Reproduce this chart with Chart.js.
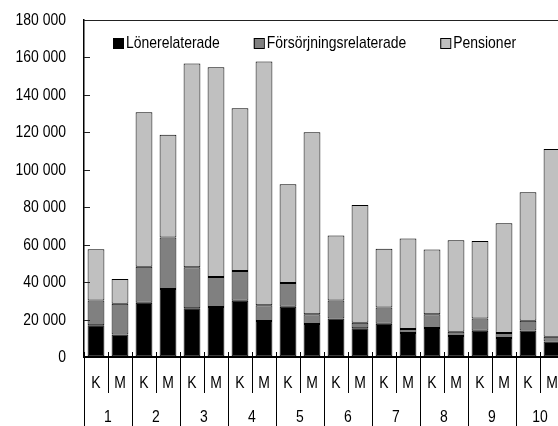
<!DOCTYPE html>
<html>
<head>
<meta charset="utf-8">
<script src="https://cdn.jsdelivr.net/npm/chart.js@4.4.1/dist/chart.umd.min.js"></script>
<style>
  html, body { margin: 0; padding: 0; overflow: hidden; background: #fff; }
  #wrap { position: absolute; left: 0; top: 0; width: 572px; height: 426px; }
</style>
</head>
<body>
<div id="wrap"><canvas id="chart"></canvas></div>
<script>
var bars = ['K', 'M', 'K', 'M', 'K', 'M', 'K', 'M', 'K', 'M', 'K', 'M', 'K', 'M', 'K', 'M', 'K', 'M', 'K', 'M'];
var groups = ['1', '2', '3', '4', '5', '6', '7', '8', '9', '10'];
var loner = [17000, 12000, 29000, 36300, 26000, 26700, 30000, 19200, 26800, 17600, 20600, 15300, 17800, 12800, 15500, 11200, 14000, 10100, 14200, 8300];
var forsorj = [13200, 16400, 19200, 27500, 22000, 16000, 16000, 8500, 12700, 5300, 9600, 3000, 8700, 2100, 7400, 2300, 6600, 2700, 5200, 2500];
var pension = [27400, 13200, 82500, 54900, 108800, 112000, 86800, 130200, 52800, 97100, 34700, 62900, 31300, 48400, 34500, 48900, 41400, 58700, 68600, 100300];
var seriesNames = ['Lönerelaterade', 'Försörjningsrelaterade', 'Pensioner'];
var seriesColors = ['#000000', '#808080', '#c0c0c0'];

var FONT = "17px 'Liberation Sans', Arial, sans-serif";
var SQUEEZE = 0.82; // no narrow face installed, so squeeze the text by hand

function fmt(v) {
  return String(v).replace(/\B(?=(\d{3})+(?!\d))/g, ' ');
}

function text(ctx, s, x, y, align) {
  ctx.save();
  ctx.translate(x, y);
  ctx.scale(SQUEEZE, 1);
  ctx.textAlign = align;
  ctx.textBaseline = 'middle';
  ctx.fillText(s, 0, 0);
  ctx.restore();
}

// frame, inward ticks, labels and legend
var extras = {
  id: 'extras',
  afterDraw: function (chart) {
    var ctx = chart.ctx;
    var a = chart.chartArea;
    var xs = chart.scales.x;
    var ys = chart.scales.y;
    var w = (a.right - a.left) / bars.length;
    ctx.save();
    ctx.strokeStyle = '#222';
    ctx.lineWidth = 1;
    ctx.beginPath();
    ctx.moveTo(a.left, a.top + 0.5);
    ctx.lineTo(a.right, a.top + 0.5);
    ctx.moveTo(a.right - 0.5, a.top);
    ctx.lineTo(a.right - 0.5, a.bottom);
    ctx.stroke();

    ctx.font = FONT;
    ctx.fillStyle = '#000';

    // y ticks pointing into the plot, labels on the left
    ctx.beginPath();
    ys.ticks.forEach(function (t) {
      var y = Math.round(ys.getPixelForValue(t.value)) + 0.5;
      text(ctx, fmt(t.value), a.left - 18, y, 'right');
      if (t.value === 0) return;
      ctx.moveTo(a.left, y);
      ctx.lineTo(a.left + 6, y);
    });
    ctx.stroke();

    // category separators
    ctx.strokeStyle = '#000';
    ctx.beginPath();
    for (var i = 0; i <= bars.length; i++) {
      var bx = Math.round(a.left + i * w) + 0.5;
      ctx.moveTo(bx, a.bottom - 5);
      ctx.lineTo(bx, i % 2 === 0 ? chart.height : a.bottom + 36);
    }
    ctx.stroke();

    bars.forEach(function (b, i) {
      text(ctx, b, xs.getPixelForValue(i), a.bottom + 26, 'center');
    });
    groups.forEach(function (g, i) {
      var cx = (xs.getPixelForValue(2 * i) + xs.getPixelForValue(2 * i + 1)) / 2;
      text(ctx, g, cx, a.bottom + 60, 'center');
    });

    // legend
    var lx = a.left + 29;
    var ly = a.top + 18;
    seriesNames.forEach(function (name, i) {
      ctx.fillStyle = seriesColors[i];
      ctx.fillRect(lx, ly, 10, 10);
      ctx.strokeStyle = '#000';
      ctx.strokeRect(lx + 0.5, ly + 0.5, 10, 10);
      ctx.fillStyle = '#000';
      text(ctx, name, lx + 13, ly + 5.5, 'left');
      lx += 13 + ctx.measureText(name).width * SQUEEZE + 34;
    });
    ctx.restore();
  }
};

var datasets = [loner, forsorj, pension].map(function (d, i) {
  return {
    label: seriesNames[i],
    data: d,
    backgroundColor: seriesColors[i],
    borderColor: '#000',
    borderWidth: 1,
    borderSkipped: false,
    barPercentage: 0.7,
    categoryPercentage: 1
  };
});

new Chart(document.getElementById('chart'), {
  type: 'bar',
  data: { labels: bars, datasets: datasets },
  options: {
    responsive: true,
    maintainAspectRatio: false,
    animation: false,
    layout: { padding: { left: 0, right: 8, top: 20, bottom: 0 } },
    plugins: {
      legend: { display: false },
      tooltip: { enabled: false }
    },
    scales: {
      x: {
        stacked: true,
        ticks: { display: false },
        grid: { display: false },
        border: { display: true, color: '#000', width: 2 },
        afterFit: function (s) { s.height = 69; }
      },
      y: {
        stacked: true,
        min: 0,
        max: 180000,
        ticks: { display: false, stepSize: 20000 },
        grid: { drawOnChartArea: false, drawTicks: false },
        border: { display: true, color: '#000', width: 1.5 },
        afterFit: function (s) { s.width = 84; }
      }
    }
  },
  plugins: [extras]
});
</script>
</body>
</html>
